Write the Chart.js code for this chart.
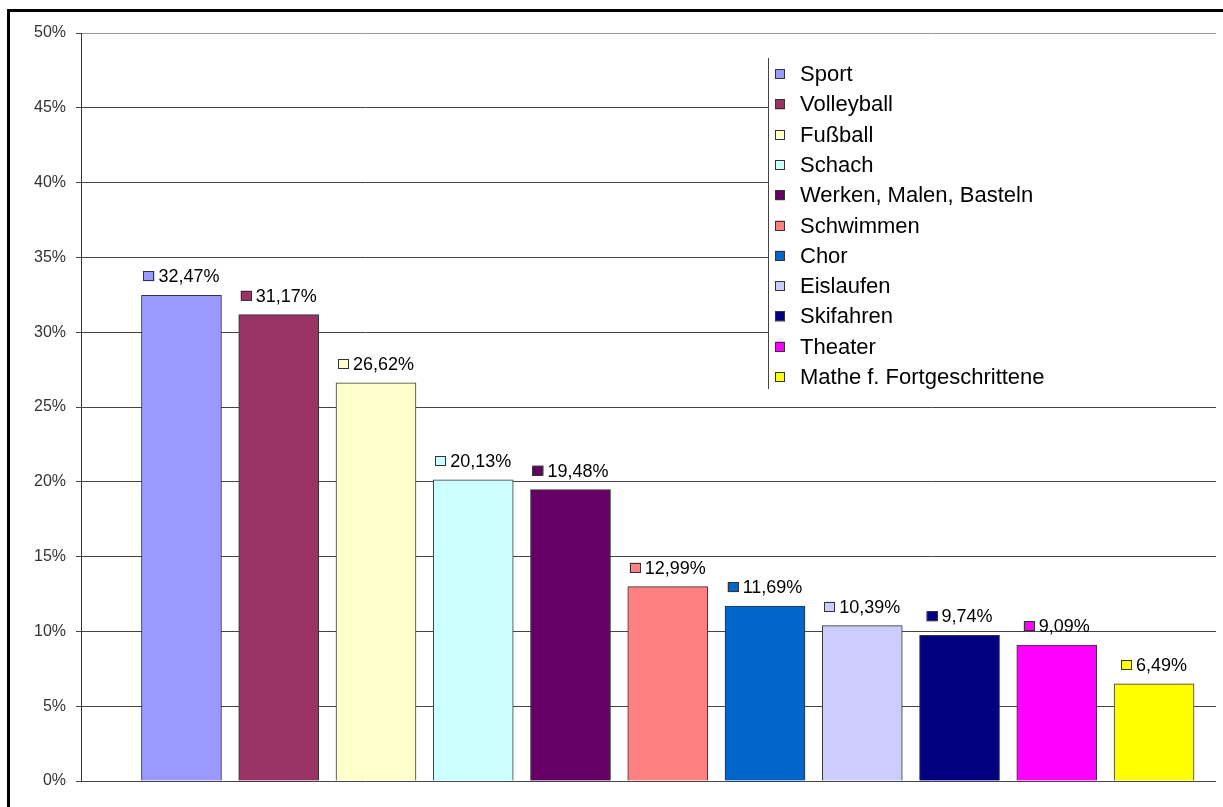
<!DOCTYPE html>
<html>
<head>
<meta charset="utf-8">
<script src="https://cdn.jsdelivr.net/npm/chart.js@4.4.0/dist/chart.umd.min.js"></script>
<style>
  html, body { margin:0; padding:0; background:#fff; }
  #wrap { width:1223px; height:807px; }
</style>
</head>
<body>
<div id="wrap"><canvas id="chart" width="1223" height="807"></canvas></div>
<script>
// data
const categories = ['Sport', 'Volleyball', 'Fußball', 'Schach', 'Werken, Malen, Basteln', 'Schwimmen',
  'Chor', 'Eislaufen', 'Skifahren', 'Theater', 'Mathe f. Fortgeschrittene'];
const values = [32.47, 31.17, 26.62, 20.13, 19.48, 12.99, 11.69, 10.39, 9.74, 9.09, 6.49];
const colors = ['#9999FF', '#993366', '#FFFFCC', '#CCFFFF', '#660066', '#FF8080',
  '#0066CC', '#CCCCFF', '#000080', '#FF00FF', '#FFFF00'];
const yTicks = [0, 5, 10, 15, 20, 25, 30, 35, 40, 45, 50];

const FONT = '"Liberation Sans", Arial, sans-serif';
const fmt = v => v.toFixed(2).replace('.', ',') + '%';

// outer frame of the chart object
const framePlugin = {
  id: 'frame',
  beforeDraw(chart){
    const ctx = chart.ctx;
    ctx.save();
    ctx.fillStyle = '#fff';
    ctx.fillRect(0, 0, chart.width, chart.height);
    ctx.strokeStyle = '#000';
    ctx.lineWidth = 3;
    ctx.strokeRect(8.5, 10.5, chart.width + 20, chart.height + 20);
    ctx.restore();
  }
};

// value labels with legend key, like excel
const labelPlugin = {
  id: 'valueLabels',
  afterDatasetsDraw(chart){
    const ctx = chart.ctx;
    const meta = chart.getDatasetMeta(0);
    ctx.save();
    ctx.font = '18px ' + FONT;
    ctx.textBaseline = 'middle';
    ctx.textAlign = 'left';
    meta.data.forEach((bar, i) => {
      const txt = fmt(values[i]);
      const tw = ctx.measureText(txt).width;
      const total = 11 + 4 + tw;
      const x0 = bar.x - total / 2;
      const cy = bar.y - 19;
      ctx.fillStyle = colors[i];
      ctx.fillRect(x0, cy - 5, 11, 10);
      ctx.strokeStyle = '#333';
      ctx.lineWidth = 1;
      ctx.strokeRect(Math.round(x0) + 0.5, Math.round(cy - 5) + 0.5, 10, 9);
      ctx.fillStyle = '#000';
      ctx.fillText(txt, x0 + 15, cy + 1);
    });
    ctx.restore();
  }
};

// legend box top right (white box over the grid)
const legendPlugin = {
  id: 'boxLegend',
  afterDraw(chart){
    const ctx = chart.ctx;
    ctx.save();
    ctx.fillStyle = '#fff';
    ctx.fillRect(769, 58, chart.chartArea.right - 769 + 1, 331);
    ctx.strokeStyle = '#444';
    ctx.lineWidth = 1;
    ctx.beginPath();
    ctx.moveTo(768.5, 58);
    ctx.lineTo(768.5, 389);
    ctx.stroke();
    ctx.font = '22px ' + FONT;
    ctx.textBaseline = 'middle';
    ctx.textAlign = 'left';
    categories.forEach((c, i) => {
      const cy = 74 + i * 30.3;
      ctx.fillStyle = colors[i];
      ctx.fillRect(775, cy - 5, 10, 10);
      ctx.strokeStyle = '#333';
      ctx.strokeRect(775.5, Math.round(cy - 5) + 0.5, 9, 9);
      ctx.fillStyle = '#000';
      ctx.fillText(c, 800, cy + 1);
    });
    ctx.restore();
  }
};

new Chart(document.getElementById('chart'), {
  type: 'bar',
  data: {
    datasets: [{
      data: values.map((v, i) => ({ x: i, y: v })),
      backgroundColor: colors,
      borderColor: '#333',
      borderWidth: 1,
      barThickness: 80
    }]
  },
  options: {
    responsive: false,
    animation: false,
    layout: { padding: { left: 0, top: 33, right: 7, bottom: 26 } },
    plugins: { legend: { display: false }, tooltip: { enabled: false } },
    scales: {
      x: {
        type: 'linear',
        display: false,
        offset: false,
        min: -1.033,
        max: 10.637
      },
      y: {
        min: 0,
        max: 50,
        afterFit(scale){ scale.width = 81; },
        afterBuildTicks(scale){ scale.ticks = yTicks.map(v => ({ value: v })); },
        border: { color: '#333', width: 1 },
        grid: {
          color: ctx => ctx.tick && ctx.tick.value === 50 ? '#999' : '#444',
          tickColor: '#444',
          tickLength: 5,
          lineWidth: 1
        },
        ticks: {
          padding: 10,
          color: '#333',
          font: { family: FONT, size: 16 },
          callback: v => v + '%'
        }
      }
    }
  },
  plugins: [framePlugin, labelPlugin, legendPlugin]
});
</script>
</body>
</html>
